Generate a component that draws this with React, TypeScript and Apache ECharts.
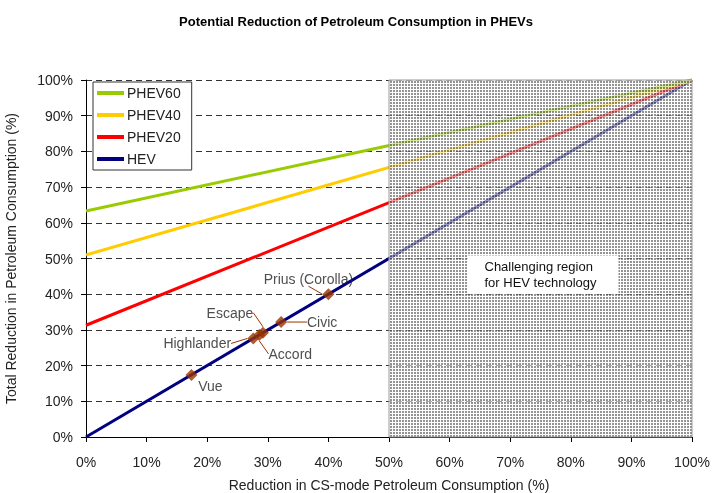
import React, { useEffect, useRef } from 'react';
import * as echarts from 'echarts';

const xEnds = [0, 100];
const phev60Values = [63.3, 100];
const phev40Values = [51, 100];
const phev20Values = [31.3, 100];
const hevValues = [0, 100];

const vehicleNames = ['Vue', 'Highlander', 'Accord', 'Escape', 'Civic', 'Prius (Corolla)'];
const vehicleValues = [17.4, 27.6, 28.6, 29.2, 32.2, 40];

const regionStart = 50;
const regionEnd = 100;
const regionText = 'Challenging region\nfor HEV technology';

// label placement (layout only)
const labelShift: Record<string, [number, number, boolean]> = {
  'Vue': [19, 11, false],
  'Highlander': [-56, 5, true],
  'Accord': [31, 19, true],
  'Escape': [-33, -20, true],
  'Civic': [41, 0, true],
  'Prius (Corolla)': [-20, -15, true],
};

const FONT = 'Liberation Sans, Arial, sans-serif';

export default function App() {
  const ref = useRef<HTMLDivElement>(null);
  useEffect(() => {
    if (!ref.current) return;
    const chart = echarts.init(ref.current, undefined, { renderer: 'svg' });

    const cv = document.createElement('canvas');
    cv.width = 3;
    cv.height = 3;
    const ctx = cv.getContext('2d')!;
    ctx.fillStyle = 'rgba(255,255,255,0.6)';
    ctx.fillRect(0, 0, 3, 3);
    ctx.clearRect(0, 0, 2, 2);
    ctx.fillStyle = 'rgba(105,105,105,0.72)';
    ctx.fillRect(0, 0, 2, 2);

    const mk = (vals: number[]) => xEnds.map((x, i) => [x, vals[i]]);
    const lineSeries = (name: string, vals: number[], color: string) => ({
      name,
      type: 'line',
      data: mk(vals),
      symbol: 'none',
      lineStyle: { color, width: 3 },
      itemStyle: { color },
      z: 2,
    });

    chart.setOption({
      animation: false,
      textStyle: { fontFamily: FONT },
      title: {
        text: 'Potential Reduction of Petroleum Consumption in PHEVs',
        left: 'center',
        top: 10,
        textStyle: { fontSize: 13, fontWeight: 'bold', color: '#000', fontFamily: FONT },
      },
      legend: {
        left: 93,
        top: 82,
        orient: 'vertical',
        data: ['PHEV60', 'PHEV40', 'PHEV20', 'HEV'],
        icon: 'rect',
        itemWidth: 27,
        itemHeight: 4,
        itemGap: 8,
        padding: [4, 11, 4, 4],
        borderColor: '#333',
        borderWidth: 1,
        backgroundColor: '#fff',
        textStyle: { fontSize: 14, color: '#222', padding: [0, 0, 0, -2], fontFamily: FONT },
      },
      grid: { left: 86, right: 20, top: 80, bottom: 56, outerBoundsMode: 'none' },
      xAxis: {
        type: 'value',
        min: 0,
        max: 100,
        interval: 10,
        name: 'Reduction in CS-mode Petroleum Consumption (%)',
        nameLocation: 'middle',
        nameGap: 41,
        nameTextStyle: { fontSize: 14, color: '#222' },
        axisLine: { show: true, lineStyle: { color: '#000', width: 1 } },
        axisTick: { show: true, length: 5, lineStyle: { color: '#000' } },
        axisLabel: { formatter: '{value}%', fontSize: 14, color: '#222', margin: 18 },
        splitLine: { show: false },
      },
      yAxis: {
        type: 'value',
        min: 0,
        max: 100,
        interval: 10,
        name: 'Total Reduction in Petroleum Consumption (%)',
        nameLocation: 'middle',
        nameGap: 68,
        nameTextStyle: { fontSize: 14, color: '#222' },
        axisLine: { show: true, lineStyle: { color: '#000', width: 1 } },
        axisTick: { show: true, length: 5, lineStyle: { color: '#000' } },
        axisLabel: { formatter: '{value}%', fontSize: 14, color: '#222', margin: 13 },
        splitLine: { show: true, lineStyle: { color: '#333', type: [6, 4], width: 1 } },
      },
      series: [
        lineSeries('HEV', hevValues, '#000080'),
        lineSeries('PHEV20', phev20Values, '#ff0000'),
        lineSeries('PHEV40', phev40Values, '#ffcc00'),
        lineSeries('PHEV60', phev60Values, '#99cc00'),
        {
          name: 'region',
          type: 'line',
          data: [],
          markArea: {
            silent: true,
            z: 3,
            itemStyle: {
              color: { image: cv, repeat: 'repeat' },
              borderColor: '#999',
              borderWidth: 1,
            },
            label: {
              show: true,
              position: 'inside',
              offset: [-73, 16],
              formatter: regionText,
              align: 'left',
              fontSize: 13,
              lineHeight: 16,
              color: '#111',
              backgroundColor: '#fff',
              padding: [3, 22, 3, 17],
              fontFamily: FONT,
            },
            data: [[{ xAxis: regionStart, yAxis: 0 }, { xAxis: regionEnd, yAxis: 100 }]],
          },
        },
        {
          name: 'vehicles',
          type: 'scatter',
          symbol: 'diamond',
          symbolSize: 12,
          z: 4,
          itemStyle: { color: '#993300' },
          data: vehicleNames.map((n, i) => ({
            name: n,
            value: [vehicleValues[i], vehicleValues[i]],
            labelLine: { show: labelShift[n][2] },
          })),
          label: {
            show: true,
            position: 'inside',
            formatter: '{b}',
            fontSize: 14,
            color: '#222',
            fontFamily: FONT,
          },
          labelLine: { show: true, lineStyle: { color: '#993300', width: 1 } },
          labelLayout: (p: any) => {
            const s = labelShift[vehicleNames[p.dataIndex]];
            return { dx: s[0], dy: s[1] };
          },
        },
      ],
    });
    return () => chart.dispose();
  }, []);
  return <div ref={ref} style={{ position: 'fixed', left: 0, top: 0, width: 712, height: 493 }} />;
}
